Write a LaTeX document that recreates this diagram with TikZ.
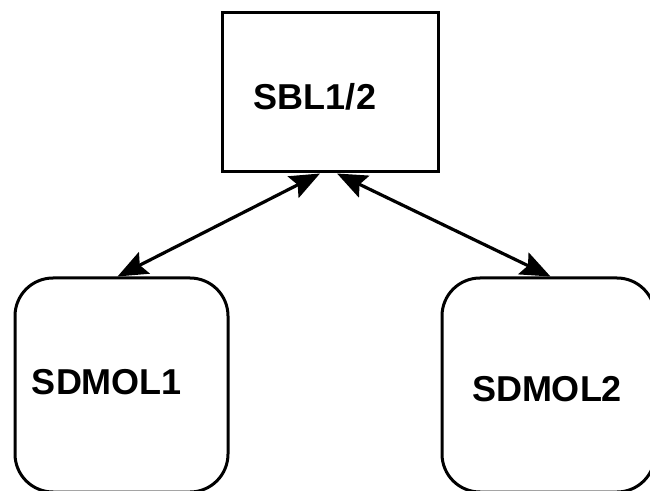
\documentclass[tikz,border=0pt]{standalone}
\usepackage{fontspec}
\setmainfont{Liberation Sans}
\usetikzlibrary{arrows.meta}

\tikzset{
	unit/.style={draw, line width=3pt, minimum width=216pt, minimum height=159pt},
	molbox/.style={draw, line width=3pt, rounded corners=38pt, minimum width=213pt, minimum height=214pt},
	lbl/.style={font=\fontsize{36}{40}\selectfont\bfseries, inner sep=0pt},
	link/.style={line width=3.2pt, {Stealth[length=30pt,width=24pt,inset=5pt]}-{Stealth[length=30pt,width=24pt,inset=5pt]}}
}

\begin{document}
\begin{tikzpicture}[x=1pt,y=1pt]
				\useasboundingbox (0,0) rectangle (650,490);
				% boxes
				\node[unit] (sbl) at (330,397.5) {};
				\node[molbox] (mola) at (121.5,105) {};
				\node[molbox] (molb) at (548.5,105) {};
				% labels
				\node[lbl] (sbltxt) at (315,393) {SBL1/2};
				\node[lbl] (molatxt) at (107,108) {SDMOL1};
				\node[lbl] (molbtxt) at (547,101) {SDMOL2};
				% links
				\draw[link] ([xshift=-10pt]sbl.south) -- ([xshift=-4pt]mola.north);
				\draw[link] ([xshift=7pt]sbl.south) -- ([xshift=2pt]molb.north);
			\end{tikzpicture}
\end{document}
